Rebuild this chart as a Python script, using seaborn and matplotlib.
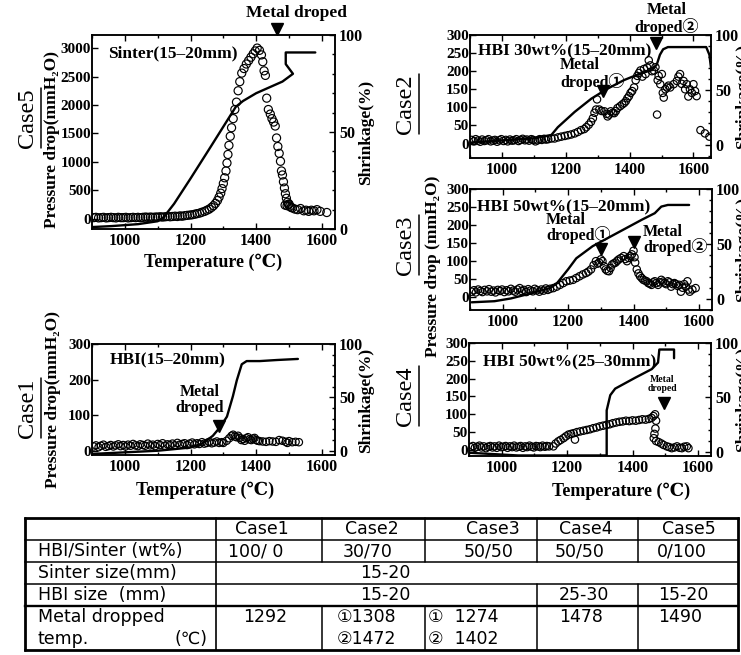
import matplotlib
matplotlib.use("Agg")
import matplotlib.pyplot as plt
import seaborn as sns
from matplotlib.ticker import MultipleLocator

# ------------------------------------------------------------------ data
# Case5 : Sinter (15-20mm)
c5_T = [905, 912, 920, 928, 935, 943, 950, 958, 965, 973, 980, 988, 995, 1003, 1010, 1018, 1025, 1033, 1040, 1048,
        1055, 1063, 1070, 1078, 1085, 1093, 1100, 1108, 1115, 1123, 1130, 1138, 1145, 1153, 1160, 1168, 1175, 1183,
        1190, 1198, 1205, 1213, 1220, 1228, 1235, 1243, 1250, 1257, 1264, 1270, 1276, 1282, 1287, 1292, 1296, 1300,
        1304, 1308, 1311, 1314, 1317, 1321, 1325, 1330, 1335, 1340, 1345, 1350, 1356, 1363, 1370, 1377, 1384, 1391,
        1397, 1403, 1410, 1416, 1420, 1424, 1428, 1432, 1437, 1443, 1448, 1453, 1458, 1462, 1466, 1470, 1474, 1477,
        1480, 1483, 1486, 1489, 1492, 1495, 1498, 1502, 1506, 1488, 1494, 1500, 1510, 1518, 1526, 1535, 1545, 1552,
        1560, 1568, 1576, 1585, 1595, 1615]
c5_P = [20, 25, 15, 20, 25, 15, 20, 25, 20, 15, 25, 20, 20, 25, 15, 20, 25, 20, 25, 20,
        25, 30, 25, 30, 25, 30, 30, 35, 30, 35, 40, 35, 40, 45, 40, 50, 45, 55,
        60, 65, 70, 80, 90, 100, 115, 130, 150, 170, 200, 230, 270, 320, 380, 450, 530, 620,
        720, 840, 980, 1130, 1290, 1450, 1600, 1760, 1920, 2050, 2250, 2410, 2560, 2640, 2720, 2780, 2840, 2900,
        2950, 3000, 2960, 2880, 2760, 2600, 2520, 2120, 1920, 1840, 1760, 1700, 1630, 1420, 1270, 1150, 1010, 840,
        770, 650, 540, 440, 360, 290, 250, 220, 200, 240, 230, 260, 190, 170, 160, 180, 140, 150,
        130, 150, 140, 160, 130, 110]
c5_lineT = [900, 960, 1040, 1100, 1118, 1150, 1200, 1260, 1338, 1360, 1400, 1440, 1480, 1512, 1490, 1490, 1580]
c5_lineS = [1, 1.5, 2.5, 4, 6, 13, 26, 42, 63, 66, 70, 73, 76, 80, 85, 91, 91]
c5_dropT = [1462]
c5_dropP = [3330]

# Case1 : HBI (15-20mm)
c1_T = [905, 912, 920, 927, 935, 942, 950, 957, 965, 972, 980, 987, 995, 1002, 1010, 1017, 1025, 1032, 1040, 1047,
        1055, 1062, 1070, 1077, 1085, 1092, 1100, 1107, 1115, 1122, 1130, 1137, 1145, 1152, 1160, 1167, 1175, 1182,
        1190, 1197, 1205, 1212, 1220, 1227, 1235, 1242, 1250, 1257, 1265, 1272, 1280, 1287,
        1295, 1300, 1310, 1318, 1325, 1330, 1335, 1340, 1345, 1350, 1355, 1360, 1365, 1370, 1375, 1380, 1385, 1390,
        1395, 1400, 1405, 1410, 1420, 1430, 1440, 1450, 1460, 1470, 1480, 1490, 1495, 1500, 1510, 1520, 1530]
c1_P = [12, 15, 10, 14, 17, 11, 13, 16, 12, 15, 18, 13, 16, 12, 17, 14, 19, 15, 13, 18,
        16, 14, 20, 15, 17, 13, 19, 16, 21, 14, 18, 16, 20, 15, 22, 17, 19, 21,
        16, 20, 23, 18, 21, 19, 24, 20, 22, 25, 21, 23, 26, 22,
        24, 22, 28, 35, 42, 45, 40, 38, 42, 36, 30, 33, 28, 35, 38, 32, 30, 34,
        36, 30, 28, 27, 26, 25, 27, 26, 25, 30, 28, 25, 22, 27, 24, 25, 24]
c1_lineT = [900, 1000, 1100, 1200, 1238, 1268, 1290, 1311, 1329, 1341, 1356, 1371, 1411, 1463, 1527]
c1_lineS = [-3, -1.5, 0, 3, 7, 14, 22, 32, 51, 66, 81, 84, 84, 85, 86]
c1_dropT = [1287]
c1_dropP = [70]

# low-temperature band shared temperatures (Case2-4)
low_T = [905, 912, 918, 925, 932, 938, 945, 952, 958, 965, 972, 978, 985, 992, 998, 1005, 1012, 1018, 1025, 1032,
         1038, 1045, 1052, 1058, 1065, 1072, 1078, 1085, 1092, 1098, 1105, 1112, 1118, 1125, 1132, 1138, 1145]

# Case2 : HBI 30wt% (15-20mm)
c2_lowP = [10, 6, 12, 8, 5, 11, 7, 9, 12, 6, 8, 10, 5, 9, 12, 7, 10, 6, 11, 8,
           9, 12, 7, 10, 13, 9, 11, 8, 12, 10, 6, 9, 12, 10, 13, 11, 12]
c2_T = [1155, 1165, 1176, 1186, 1197, 1207, 1217, 1228, 1238, 1248, 1258, 1264, 1272, 1279, 1285, 1290, 1295, 1298,
        1305, 1312, 1321, 1328, 1331, 1336, 1341, 1347, 1352, 1357, 1362, 1370, 1377, 1383, 1388, 1393, 1398, 1403,
        1408, 1414, 1419, 1424, 1429, 1434, 1440, 1445, 1450, 1455, 1460, 1465, 1470, 1476, 1481, 1486, 1488, 1491,
        1496, 1501, 1504, 1507, 1512, 1517, 1522, 1527, 1538, 1548, 1553, 1558, 1563, 1569, 1574, 1579, 1584, 1589,
        1595, 1600, 1605, 1610, 1622, 1636, 1650]
c2_P = [14, 14, 17, 19, 21, 23, 25, 28, 32, 37, 40, 45, 52, 60, 70, 85, 94, 122,
        94, 90, 89, 82, 75, 80, 89, 85, 84, 90, 98, 103, 108, 112, 117, 125, 131, 140,
        145, 155, 175, 187, 195, 202, 185, 206, 192, 210, 230, 216, 200, 202, 211, 80, 175, 187,
        164, 192, 140, 127, 150, 155, 160, 155, 164, 173, 185, 192, 165, 173, 150, 164, 130, 150,
        140, 164, 145, 131, 37, 28, 19]
c2_lineT = [900, 1000, 1100, 1155, 1175, 1228, 1280, 1330, 1383, 1434, 1470, 1485, 1495, 1505, 1520, 1640, 1650, 1657]
c2_lineS = [2, 4, 6, 9, 16, 30, 42, 51, 59, 65, 68, 73, 82, 87, 89, 89, 82, 65]
c2_dropT = [1316, 1482]
c2_dropP = [145, 277]

# Case3 : HBI 50wt% (15-20mm)
c3_lowP = [14, 18, 12, 20, 16, 13, 19, 15, 21, 14, 17, 12, 19, 16, 20, 13, 18, 15, 22, 17,
           14, 20, 24, 16, 19, 13, 21, 17, 15, 22, 18, 14, 20, 17, 23, 19, 22]
c3_T = [1155, 1165, 1175, 1185, 1195, 1205, 1215, 1225, 1235, 1245, 1255, 1262, 1270, 1278, 1285, 1290, 1295, 1300,
        1305, 1310, 1315, 1320, 1325, 1330, 1335, 1340, 1345, 1350, 1355, 1362, 1370, 1375, 1380, 1385, 1390, 1395,
        1400, 1403, 1405, 1410, 1415, 1420, 1425, 1430, 1435, 1440, 1445, 1450, 1455, 1460, 1465, 1470, 1475, 1480,
        1485, 1490, 1495, 1500, 1505, 1510, 1515, 1520, 1525, 1530, 1535, 1540, 1545, 1550, 1555, 1560, 1565, 1568,
        1572, 1580, 1590]
c3_P = [24, 28, 33, 38, 43, 45, 47, 52, 57, 62, 66, 70, 76, 88, 99, 92, 95, 104,
        99, 85, 76, 72, 71, 80, 90, 93, 95, 100, 104, 108, 113, 105, 99, 108, 113, 118,
        128, 110, 95, 76, 65, 57, 52, 47, 45, 43, 38, 36, 33, 40, 43, 38, 33, 40,
        47, 42, 38, 35, 43, 40, 28, 35, 38, 35, 30, 33, 14, 25, 35, 28, 43, 20,
        14, 20, 24]
c3_lineT = [905, 975, 1025, 1085, 1145, 1165, 1200, 1225, 1275, 1325, 1375, 1425, 1465, 1485, 1505, 1570]
c3_lineS = [-3, -2, 0.5, 5, 10, 14, 27, 37, 48, 56, 64, 72, 78, 84, 85.5, 85.5]
c3_dropT = [1300, 1402]
c3_dropP = [134, 151]

# Case4 : HBI 50wt% (25-30mm)
c4_lowP = [8, 11, 6, 9, 12, 7, 10, 5, 9, 11, 7, 10, 6, 12, 8, 9, 11, 6, 10, 8,
           12, 7, 9, 11, 6, 10, 8, 12, 9, 7, 11, 10, 8, 12, 9, 11, 10]
c4_T = [1158, 1165, 1173, 1180, 1189, 1196, 1204, 1212, 1220, 1224, 1230, 1240, 1250, 1260, 1270, 1280, 1290, 1300,
        1310, 1320, 1330, 1340, 1350, 1360, 1370, 1380, 1390, 1400, 1410, 1420, 1430, 1440, 1450, 1458, 1464, 1469,
        1472, 1470, 1467, 1465, 1472, 1480, 1488, 1495, 1505, 1512, 1520, 1528, 1536, 1544, 1551, 1558, 1566, 1571]
c4_P = [10, 18, 24, 28, 33, 38, 43, 45, 47, 29, 50, 52, 54, 56, 58, 61, 63, 66,
        68, 70, 72, 75, 77, 79, 80, 82, 81, 83, 82, 84, 86, 85, 87, 90, 95, 100,
        82, 60, 45, 33, 25, 22, 18, 14, 10, 8, 5, 7, 10, 6, 5, 9, 10, 5]
c4_lineT = [900, 1050, 1321, 1321, 1332, 1347, 1408, 1459, 1478, 1482, 1527, 1527]
c4_lineS = [-1, -3.5, -3.5, 38, 52, 58, 68, 76, 82, 94, 94, 86]
c4_dropT = [1497]
c4_dropP = [131]

# table
tbl_cases = ["Case1", "Case2", "Case3", "Case4", "Case5"]
tbl_ratio = ["100/ 0", "30/70", "50/50", "50/50", "0/100"]
tbl_rows = ["HBI/Sinter (wt%)", "Sinter size(mm)", "HBI size  (mm)", "Metal dropped", "temp."]

# ------------------------------------------------------------------ style
sns.set_style("ticks")
plt.rcParams["font.family"] = ["Liberation Serif", "DejaVu Serif", "Noto Sans CJK JP"]
plt.rcParams["font.weight"] = "bold"
plt.rcParams["axes.linewidth"] = 1.1
plt.rcParams["axes.edgecolor"] = "black"
plt.rcParams["xtick.color"] = "black"
plt.rcParams["ytick.color"] = "black"
plt.rcParams["text.color"] = "black"

W, H = 741, 655
fig = plt.figure(figsize=(W / 100, H / 100), dpi=100)
fig.patch.set_facecolor("white")


def px_axes(l, t, r, b):
    return fig.add_axes([l / W, 1 - b / H, (r - l) / W, (b - t) / H])


def panel(box, pT, pP, lT, lS, dT, dP, xlim, ylim, ylim2, ymaj, ms):
    ax = px_axes(*box)
    ax2 = ax.twinx()
    sns.scatterplot(x=pT, y=pP, ax=ax, s=ms, facecolor="none", edgecolor="black",
                    linewidth=0.85, zorder=3, legend=False)
    sns.lineplot(x=lT, y=lS, ax=ax2, sort=False, estimator=None, color="black", linewidth=1.7)
    ax.plot(dT, dP, marker="v", color="black", markersize=8.5, linestyle="none", clip_on=False, zorder=6)
    ax.set_xlim(*xlim)
    ax.set_ylim(*ylim)
    ax2.set_ylim(*ylim2)
    for a in (ax, ax2):
        a.set_xlabel("")
        a.set_ylabel("")
    ax.xaxis.set_major_locator(MultipleLocator(200))
    ax.xaxis.set_minor_locator(MultipleLocator(100))
    ax.yaxis.set_major_locator(MultipleLocator(ymaj))
    ax2.yaxis.set_major_locator(MultipleLocator(50))
    ax2.yaxis.set_minor_locator(MultipleLocator(10))
    ax.tick_params(axis="x", which="both", direction="in", top=True, bottom=True, pad=3, labelsize=11.5)
    ax.tick_params(axis="x", which="major", length=4.5, width=1)
    ax.tick_params(axis="x", which="minor", length=2.5, width=1)
    ax.tick_params(axis="y", which="major", direction="in", length=4.5, width=1, pad=0.8, labelsize=11)
    ax2.tick_params(axis="y", which="major", direction="in", length=4.5, width=1, pad=3, labelsize=11.5)
    ax2.tick_params(axis="y", which="minor", direction="in", length=2.5, width=1)
    for a in (ax, ax2):
        for sp in a.spines.values():
            sp.set_visible(True)
            sp.set_color("black")
            sp.set_linewidth(1.1)
    return ax, ax2


panel((92, 35, 335, 229), c5_T, c5_P, c5_lineT, c5_lineS, c5_dropT, c5_dropP,
      (900, 1640), (-180, 3230), (0, 100), 500, 34)
panel((92, 344, 335, 455), c1_T, c1_P, c1_lineT, c1_lineS, c1_dropT, c1_dropP,
      (900, 1640), (-12, 300), (-4, 100), 100, 28)
panel((470, 35, 711, 158), low_T + c2_T, c2_lowP + c2_P, c2_lineT, c2_lineS, c2_dropT, c2_dropP,
      (900, 1655), (-40, 300), (-12, 100), 50, 28)
panel((470, 189, 712, 310), low_T + c3_T, c3_lowP + c3_P, c3_lineT, c3_lineS, c3_dropT, c3_dropP,
      (900, 1640), (-37, 300), (-10, 100), 50, 28)
panel((469, 343, 711, 456), low_T + c4_T, c4_lowP + c4_P, c4_lineT, c4_lineS, c4_dropT, c4_dropP,
      (900, 1640), (-17, 300), (-4, 100), 50, 28)

# ------------------------------------------------------------------ overlay (labels + table), pixel coords
ov = fig.add_axes([0, 0, 1, 1], zorder=10)
ov.set_xlim(0, W)
ov.set_ylim(H, 0)
ov.set_axis_off()

SERIF = ["Liberation Serif", "DejaVu Serif", "Noto Sans CJK JP"]
SANS = ["DejaVu Sans", "Noto Sans CJK JP"]

# case labels (underlined)
for name, x, y, ux in [("Case5", 28, 118, 41), ("Case1", 28, 408, 41),
                       ("Case2", 406, 104, 419), ("Case3", 406, 245, 419), ("Case4", 406, 396, 419)]:
    ov.text(x, y, name, rotation=90, ha="center", va="center", fontsize=17.5,
            fontweight="normal", family=SERIF)
    ov.plot([ux, ux], [y - 30, y + 30], color="black", lw=1.1)

# axis titles
for s, x, y in [("Pressure drop(mmH₂O)", 52, 140), ("Pressure drop(mmH₂O)", 53, 400),
                ("Pressure drop (mmH₂O)", 433, 266)]:
    ov.text(x, y, s, rotation=90, ha="center", va="center", fontsize=12.5, family=SERIF)
for x, y in [(366, 132), (366, 400), (743, 96), (743, 249), (743, 399)]:
    ov.text(x, y, "Shrinkage(%)", rotation=90, ha="center", va="center", fontsize=12.5, family=SERIF)
for x, y in [(213, 262), (205, 490), (621, 491)]:
    ov.text(x, y, "Temperature (℃)", ha="center", va="center", fontsize=13, family=SERIF)

# panel titles
for s, x, y in [("Sinter(15–20mm)", 108, 53), ("HBI(15–20mm)", 110, 360),
                ("HBI 30wt%(15–20mm)", 478, 51), ("HBI 50wt%(15–20mm)", 477, 207),
                ("HBI 50wt%(25–30mm)", 483, 362)]:
    ov.text(x, y, s, ha="left", va="center", fontsize=12.5, family=SERIF)

# metal dropped annotations
ov.text(297, 13, "Metal droped", ha="center", va="center", fontsize=12.5, family=SERIF)
ov.text(200, 400, "Metal\ndroped", ha="center", va="center", multialignment="center",
        fontsize=11.5, linespacing=0.95, family=SERIF)
ov.text(560, 74, "Metal\ndroped①", ha="left", va="center", multialignment="left",
        fontsize=11.5, linespacing=1.0, family=SERIF)
ov.text(667, 19, "Metal\ndroped②", ha="center", va="center", multialignment="center",
        fontsize=11.5, linespacing=1.05, family=SERIF)
ov.text(546, 228, "Metal\ndroped①", ha="left", va="center", multialignment="left",
        fontsize=11.5, linespacing=0.8, family=SERIF)
ov.text(643, 240, "Metal\ndroped②", ha="left", va="center", multialignment="left",
        fontsize=11.5, linespacing=0.85, family=SERIF)
ov.text(662, 384, "Metal\ndroped", ha="center", va="center", multialignment="center",
        fontsize=7, linespacing=0.9, family=SERIF)

# ------------------------------------------------------------------ table
xL, x0, x1, x2, x3, x4, xR = 25, 216, 322, 425, 537, 638, 738
yT, y1, y2, y3, y4, yB = 518, 540, 562, 584, 606, 650
for y, lw in [(yT, 2.0), (y1, 1.1), (y2, 1.1), (y3, 1.1), (y4, 1.7), (yB, 2.0)]:
    ov.plot([xL, xR], [y, y], color="black", lw=lw, solid_capstyle="projecting")
for x, lw in [(xL, 2.0), (xR, 2.0), (x0, 1.2)]:
    ov.plot([x, x], [yT, yB], color="black", lw=lw)
for x in (x1, x2):
    ov.plot([x, x], [yT, y2], color="black", lw=1.1)
    ov.plot([x, x], [y4, yB], color="black", lw=1.1)
for x in (x3, x4):
    ov.plot([x, x], [yT, y2], color="black", lw=1.1)
    ov.plot([x, x], [y3, yB], color="black", lw=1.1)


def ttext(x, y, s, ha="center"):
    ov.text(x, y, s, ha=ha, va="center", fontsize=12.5, fontweight="normal", family=SANS)


for s, x in zip(tbl_cases, [262, 372, 493, 586, 689]):
    ttext(x, 529, s)
for s, x in zip(tbl_ratio, [256, 368, 489, 580, 682]):
    ttext(x, 551, s)
ttext(38, 551, tbl_rows[0], "left")
ttext(38, 573, tbl_rows[1], "left")
ttext(38, 595, tbl_rows[2], "left")
ttext(38, 617, tbl_rows[3], "left")
ttext(38, 639, tbl_rows[4], "left")
ttext(207, 639, "(℃)", "right")
ttext(385, 573, "15-20")
ttext(385, 595, "15-20")
ttext(584, 595, "25-30")
ttext(683, 595, "15-20")
ttext(265, 617, "1292")
ttext(337, 617, "①1308", "left")
ttext(337, 639, "②1472", "left")
ttext(428, 617, "①  1274", "left")
ttext(428, 639, "②  1402", "left")
ttext(581, 617, "1478")
ttext(680, 617, "1490")

fig.savefig("out.png", dpi=100, facecolor="white")
